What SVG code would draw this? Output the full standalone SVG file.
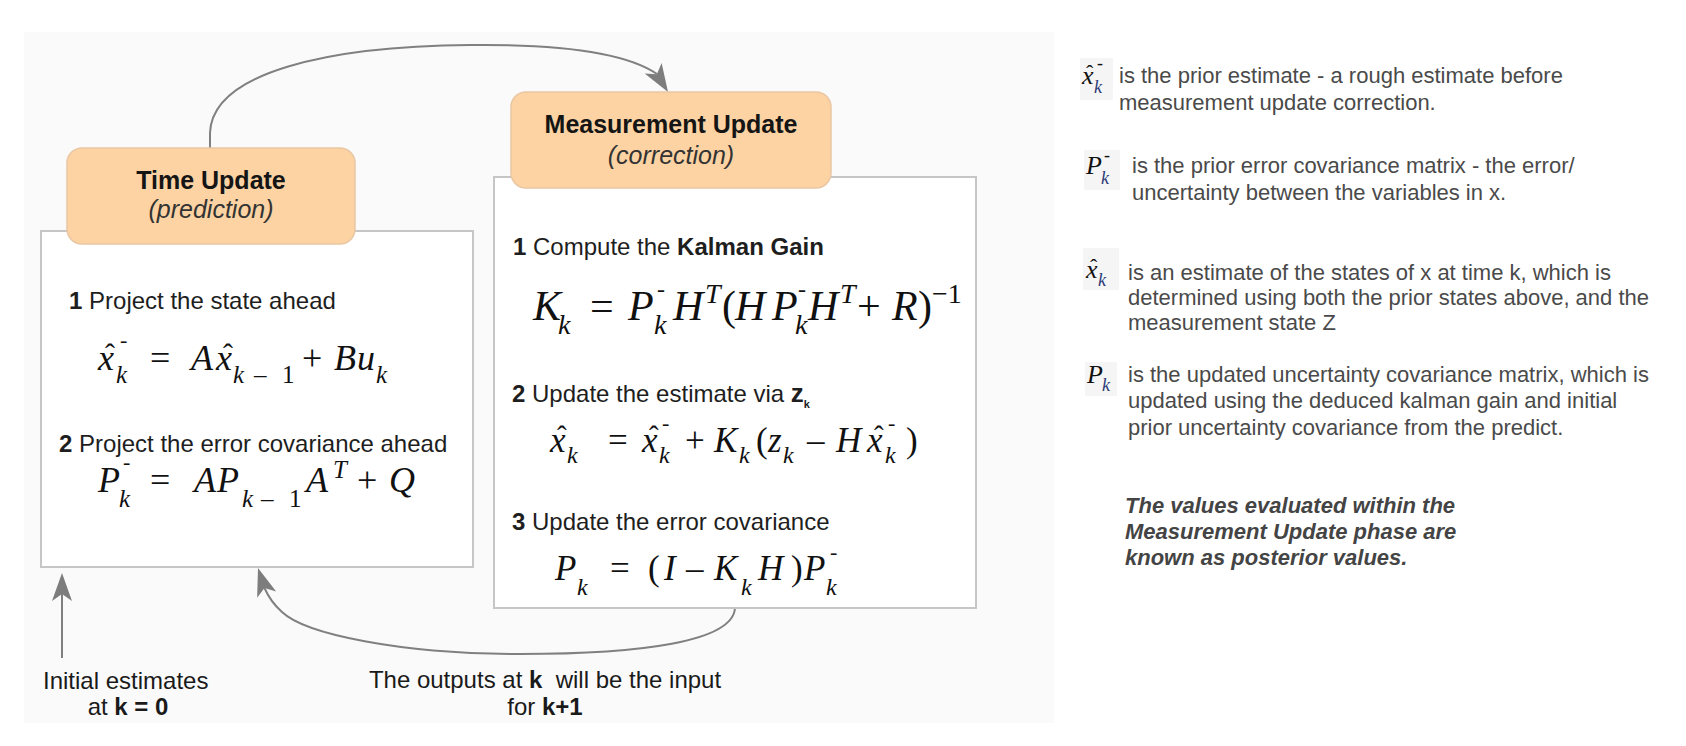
<svg xmlns="http://www.w3.org/2000/svg" width="1686" height="746" viewBox="0 0 1686 746">
<style>
.bg{fill:#fafafa}
.panel{fill:#ffffff;stroke:#c6c6c6;stroke-width:2}
.head{fill:#fdd3a3;stroke:#e9c7a4;stroke-width:1.5}
.h1{font-family:"Liberation Sans",Arial,sans-serif;font-size:25px;font-weight:bold;fill:#151515;text-anchor:middle}
.h2{font-family:"Liberation Sans",Arial,sans-serif;font-size:25px;font-style:italic;fill:#333;text-anchor:middle}
.step{font-family:"Liberation Sans",Arial,sans-serif;font-size:24px;fill:#1e1e1e}
.b{font-weight:bold}
.m{font-family:"Liberation Serif","Times New Roman",serif;font-style:italic;fill:#111}
.u{font-style:normal}
.kc{fill:#2b3a78}
.conn{fill:none;stroke:#808080;stroke-width:2}
.ah{fill:#7d7d7d}
.note{font-family:"Liberation Sans",Arial,sans-serif;font-size:22px;fill:#4a4a4a}
.bi{font-family:"Liberation Sans",Arial,sans-serif;font-size:22px;font-weight:bold;font-style:italic;fill:#444}
.sym{fill:#f5f5f5}
.lab{font-family:"Liberation Sans",Arial,sans-serif;font-size:24px;fill:#1a1a1a}
</style>
<defs>
<path id="head" d="M0,0 L-28,-10 L-21,0 L-28,10 Z"/>
</defs>
<rect class="bg" x="24" y="32" width="1030" height="691"/>

<g id="connectors">
<path class="conn" d="M210,148 L210,133 C212,72 330,46 470,45 C560,44 625,52 657,74"/>
<use href="#head" class="ah" transform="translate(668,92) rotate(58)"/>
<path class="conn" d="M735,608 C733,642 640,654 520,654 C400,654 305,634 282,612 C273,604 268,596 264.5,588"/>
<use href="#head" class="ah" transform="translate(258,568) rotate(-108)"/>
<path class="conn" d="M62,658 L62,594"/>
<use href="#head" class="ah" transform="translate(62,573) rotate(-90)"/>
</g>

<g id="time-update">
<rect class="panel" x="41" y="231" width="432" height="336"/>
<rect class="head" x="67" y="148" width="288" height="96" rx="15"/>
<text class="h1" x="211" y="189">Time Update</text>
<text class="h2" x="211" y="218">(prediction)</text>
<text class="step" x="69" y="309"><tspan class="b">1</tspan> Project the state ahead</text>
<text class="m" font-size="36"><tspan x="98" y="370">x</tspan><tspan class="u" x="105" y="364" font-size="30">ˆ</tspan><tspan x="116" y="383" font-size="25">k</tspan><tspan class="u" x="120" y="347" font-size="22">-</tspan><tspan class="u" x="150" y="370">=</tspan><tspan x="191" y="370">A</tspan><tspan x="216" y="370">x</tspan><tspan class="u" x="223" y="364" font-size="30">ˆ</tspan><tspan x="233" y="383" font-size="25">k</tspan><tspan class="u" x="254" y="383" font-size="25">–</tspan><tspan class="u" x="282" y="383" font-size="25">1</tspan><tspan class="u" x="302" y="370">+</tspan><tspan x="334" y="370">B</tspan><tspan x="357" y="370">u</tspan><tspan x="376" y="383" font-size="25">k</tspan></text>
<text class="step" x="59" y="452"><tspan class="b">2</tspan> Project the error covariance ahead</text>
<text class="m" font-size="36"><tspan x="98" y="492">P</tspan><tspan x="119" y="507" font-size="25">k</tspan><tspan class="u" x="123" y="469" font-size="22">-</tspan><tspan class="u" x="150" y="492">=</tspan><tspan x="194" y="492">A</tspan><tspan x="217" y="492">P</tspan><tspan x="242" y="507" font-size="25">k</tspan><tspan class="u" x="261" y="507" font-size="25">–</tspan><tspan class="u" x="289" y="507" font-size="25">1</tspan><tspan x="306" y="492">A</tspan><tspan x="333" y="478" font-size="25">T</tspan><tspan class="u" x="357" y="492">+</tspan><tspan x="389" y="492">Q</tspan></text>
</g>

<g id="measurement-update">
<rect class="panel" x="494" y="177" width="482" height="431"/>
<rect class="head" x="511" y="92" width="320" height="96" rx="15"/>
<text class="h1" x="671" y="133">Measurement Update</text>
<text class="h2" x="671" y="164">(correction)</text>
<text class="step" x="513" y="255"><tspan class="b">1</tspan> Compute the <tspan class="b">Kalman Gain</tspan></text>
<text class="m" font-size="42"><tspan x="533" y="320">K</tspan><tspan x="558" y="334" font-size="28">k</tspan><tspan class="u" x="590" y="320">=</tspan><tspan x="628" y="320">P</tspan><tspan x="654" y="334" font-size="28">k</tspan><tspan class="u" x="657" y="297" font-size="24">-</tspan><tspan x="673" y="320">H</tspan><tspan x="705" y="303" font-size="28">T</tspan><tspan class="u" x="722" y="320">(</tspan><tspan x="735" y="320">H</tspan><tspan x="772" y="320">P</tspan><tspan x="795" y="334" font-size="28">k</tspan><tspan class="u" x="798" y="297" font-size="24">-</tspan><tspan x="808" y="320">H</tspan><tspan x="840" y="303" font-size="28">T</tspan><tspan class="u" x="857" y="320">+</tspan><tspan x="892" y="320">R</tspan><tspan class="u" x="918" y="320">)</tspan><tspan class="u" x="932" y="303" font-size="28">−1</tspan></text>
<text class="step" x="512" y="402"><tspan class="b">2</tspan> Update the estimate via <tspan class="b" font-size="26">z</tspan><tspan class="b" font-size="11" dy="6">k</tspan></text>
<text class="m" font-size="35"><tspan x="550" y="452">x</tspan><tspan class="u" x="557" y="446" font-size="29">ˆ</tspan><tspan x="567" y="463" font-size="24">k</tspan><tspan class="u" x="608" y="452">=</tspan><tspan x="642" y="452">x</tspan><tspan class="u" x="649" y="446" font-size="29">ˆ</tspan><tspan x="659" y="463" font-size="24">k</tspan><tspan class="u" x="662" y="430" font-size="22">-</tspan><tspan class="u" x="685" y="452">+</tspan><tspan x="714" y="452">K</tspan><tspan x="739" y="463" font-size="24">k</tspan><tspan class="u" x="756" y="452">(</tspan><tspan x="768" y="452">z</tspan><tspan x="783" y="463" font-size="24">k</tspan><tspan class="u" x="807" y="452">–</tspan><tspan x="836" y="452">H</tspan><tspan x="867" y="452">x</tspan><tspan class="u" x="874" y="446" font-size="29">ˆ</tspan><tspan x="885" y="463" font-size="24">k</tspan><tspan class="u" x="888" y="430" font-size="22">-</tspan><tspan class="u" x="906" y="452">)</tspan></text>
<text class="step" x="512" y="530"><tspan class="b">3</tspan> Update the error covariance</text>
<text class="m" font-size="35"><tspan x="555" y="580">P</tspan><tspan x="577" y="595" font-size="24">k</tspan><tspan class="u" x="610" y="580">=</tspan><tspan class="u" x="648" y="580">(</tspan><tspan x="664" y="580">I</tspan><tspan class="u" x="686" y="580">–</tspan><tspan x="714" y="580">K</tspan><tspan x="741" y="595" font-size="24">k</tspan><tspan x="758" y="580">H</tspan><tspan class="u" x="791" y="580">)</tspan><tspan x="804" y="580">P</tspan><tspan x="826" y="595" font-size="24">k</tspan><tspan class="u" x="830" y="559" font-size="22">-</tspan></text>
</g>

<g id="labels">
<text class="lab" x="43" y="689">Initial estimates</text>
<text class="lab" x="128" y="715" text-anchor="middle">at <tspan class="b">k = 0</tspan></text>
<text class="lab" x="545" y="688" text-anchor="middle" xml:space="preserve">The outputs at <tspan class="b">k</tspan>  will be the input</text>
<text class="lab" x="545" y="715" text-anchor="middle">for <tspan class="b">k+1</tspan></text>
</g>

<g id="legend">
<g id="legend-prior-x">
<rect class="sym" x="1080" y="58" width="33" height="42"/>
<text class="m" font-size="26"><tspan x="1082" y="84">x</tspan><tspan class="u" x="1086" y="80" font-size="22">ˆ</tspan><tspan class="kc" x="1094" y="93" font-size="18">k</tspan><tspan class="u" x="1097" y="69" font-size="18">-</tspan></text>
<text class="note" x="1119" y="83">is the prior estimate - a rough estimate before</text>
<text class="note" x="1119" y="110">measurement update correction.</text>
</g>
<g id="legend-prior-p">
<rect class="sym" x="1084" y="150" width="36" height="40"/>
<text class="m" font-size="26"><tspan x="1086" y="174">P</tspan><tspan class="kc" x="1101" y="184" font-size="18">k</tspan><tspan class="u" x="1104" y="161" font-size="18">-</tspan></text>
<text class="note" x="1132" y="173">is the prior error covariance matrix - the error/</text>
<text class="note" x="1132" y="200">uncertainty between the variables in x.</text>
</g>
<g id="legend-post-x">
<rect class="sym" x="1083" y="248" width="36" height="42"/>
<text class="m" font-size="26"><tspan x="1086" y="278">x</tspan><tspan class="u" x="1090" y="274" font-size="22">ˆ</tspan><tspan class="kc" x="1098" y="286" font-size="18">k</tspan></text>
<text class="note" x="1128" y="280">is an estimate of the states of x at time k, which is</text>
<text class="note" x="1128" y="305">determined using both the prior states above, and the</text>
<text class="note" x="1128" y="330">measurement state Z</text>
</g>
<g id="legend-post-p">
<rect class="sym" x="1085" y="362" width="32" height="34"/>
<text class="m" font-size="26"><tspan x="1087" y="383">P</tspan><tspan class="kc" x="1102" y="391" font-size="18">k</tspan></text>
<text class="note" x="1128" y="382">is the updated uncertainty covariance matrix, which is</text>
<text class="note" x="1128" y="408">updated using the deduced kalman gain and initial</text>
<text class="note" x="1128" y="435">prior uncertainty covariance from the predict.</text>
</g>
<g id="legend-note">
<text class="bi" x="1125" y="513">The values evaluated within the</text>
<text class="bi" x="1125" y="539">Measurement Update phase are</text>
<text class="bi" x="1125" y="565">known as posterior values.</text>
</g>
</g>
</svg>
